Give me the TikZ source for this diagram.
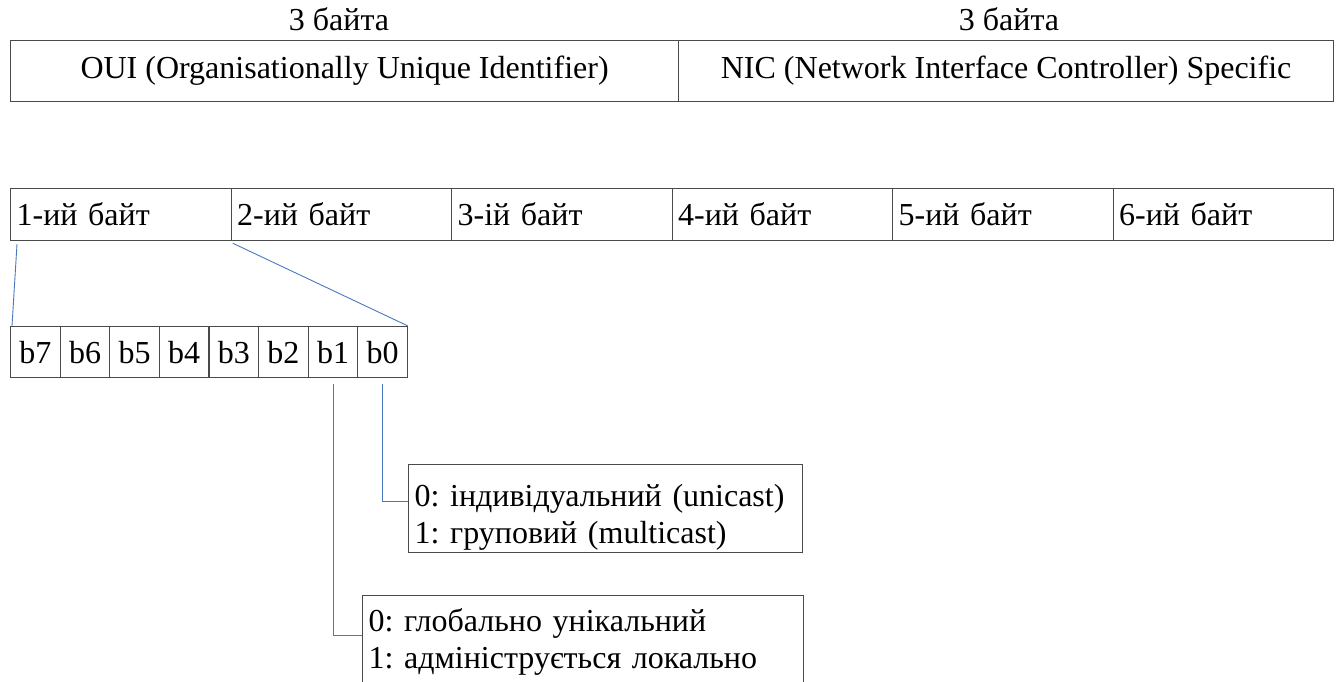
\documentclass[tikz,border=0pt]{standalone}
\usepackage{fontspec}
\setmainfont{Liberation Serif}
\usetikzlibrary{calc}
\definecolor{boxgray}{HTML}{4A4A4A}
\definecolor{linkblue}{HTML}{4A78BE}
\frenchspacing
\begin{document}
\begin{tikzpicture}[x=1pt,y=-1pt,
  txt/.style={inner sep=0pt, font=\fontsize{32}{37}\selectfont\frenchspacing},
  box/.style={txt, draw=boxgray, line width=1.2pt, anchor=north west},
  bytebox/.style={box, minimum width=220.5pt, minimum height=52pt, text width=208.5pt, align=left},
  bitbox/.style={box, minimum width=49.6pt, minimum height=51pt},
  notebox/.style={box, minimum width=394pt, minimum height=88pt, text width=382pt, align=left},
  link/.style={draw=linkblue, line width=0.9pt}]
\useasboundingbox (0,0) rectangle (1343,682);
\clip (0,0) rectangle (1343,682);

% top labels
\node[txt] (lab1) at (339,19) {3 байта};
\node[txt] (lab2) at (1009,19) {3 байта};

% top boxes
\node[box, minimum width=668pt, minimum height=61pt] (oui) at (10,40) {OUI (Organisationally Unique Identifier)};
\node[box, minimum width=655pt, minimum height=61pt] (nic) at (678,40) {NIC (Network Interface Controller) Specific};

% byte row
\node[bytebox] (B1) at (10,188) {1-ий байт};
\node[bytebox] (B2) at (230.5,188) {2-ий байт};
\node[bytebox] (B3) at (451,188) {3-ій байт};
\node[bytebox] (B4) at (671.5,188) {4-ий байт};
\node[bytebox] (B5) at (892,188) {5-ий байт};
\node[bytebox] (B6) at (1112.5,188) {6-ий байт};

% bit row
\foreach \i [count=\k from 0] in {7,6,5,4,3,2,1,0} {
  \node[bitbox] (b\i) at ({10+49.6*\k},326) {b\i};
}

% expansion lines
\draw[link] ($(B1.south west)+(7,3)$) -- ($(b7.north west)+(2,0)$);
\draw[link] ($(B1.south east)+(1,2)$) -- (b0.north east);

% notes
\node[notebox] (d0) at (408,464) {\rule{0pt}{40pt}0: індивідуальний (unicast)\\1: груповий (multicast)};
\node[notebox, minimum width=441pt, text width=429pt, minimum height=92pt] (d1) at (362,595) {0: глобально унікальний\\1: адмініструється локально};

\coordinate (e0) at ($(d0.west)+(0,-7)$);
\coordinate (e1) at ($(d1.west)+(0,-6)$);
\draw[link] ($(b0.south)+(0,6)$) |- (e0);
\draw[link] ($(b1.south)+(0,6)$) |- (e1);
\end{tikzpicture}
\end{document}
